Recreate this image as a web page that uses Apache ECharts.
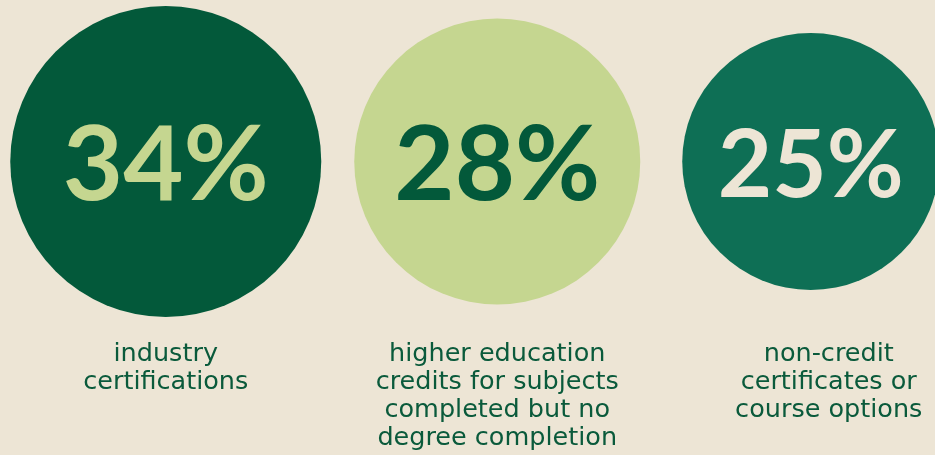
<!DOCTYPE html>
<html>
<head>
<meta charset="utf-8">
<script src="https://cdn.jsdelivr.net/npm/echarts@6/dist/echarts.min.js"></script>
<style>
html,body{margin:0;padding:0;background:#EDE5D5;}
#chart{width:935px;height:455px;}
</style>
</head>
<body>
<div id="chart"></div>
<script>
// ---- data ----
var categories = [
  "industry\ncertifications",
  "higher education\ncredits for subjects\ncompleted but no\ndegree completion",
  "non-credit\ncertificates or\ncourse options"
];
var percentValues = [34, 28, 25];

// ---- styles (not data) ----
var circleColors = ["#03593A", "#C5D690", "#0E6F55"];
var textColors = ["#C5D690", "#03593A", "#EDE5D5"];
var circleDiameters = [311, 286, 257];
var valueFontSizes = [104, 104, 94];
var circleShift = [[0, 0], [0, 0], [-18, 0]];

var seriesData = percentValues.map(function (v, i) {
  return {
    value: [i, 0, v],
    symbolSize: circleDiameters[i],
    symbolOffset: circleShift[i],
    itemStyle: { color: circleColors[i], opacity: 1 },
    label: {
      color: textColors[i],
      fontSize: valueFontSizes[i],
      offset: [0, 5]
    }
  };
});

var chart = echarts.init(document.getElementById('chart'), null, { renderer: 'canvas' });
chart.setOption({
  backgroundColor: '#EDE5D5',
  animation: false,
  grid: { left: 0, top: 0, width: 994.5, height: 323, containLabel: false, outerBoundsMode: 'none' },
  xAxis: {
    type: 'category',
    data: categories,
    boundaryGap: true,
    axisLine: { show: false },
    axisTick: { show: false },
    splitLine: { show: false },
    axisLabel: {
      interval: 0,
      margin: 17,
      color: '#0A5A3B',
      fontFamily: 'DejaVu Sans',
      fontSize: 25.5,
      lineHeight: 28,
      align: 'center'
    }
  },
  yAxis: {
    type: 'value',
    min: -1,
    max: 1,
    show: false
  },
  series: [{
    type: 'scatter',
    symbol: 'circle',
    data: seriesData,
    label: {
      show: true,
      position: 'inside',
      fontFamily: 'Lato',
      fontWeight: 'bold',
      formatter: function (p) { return p.value[2] + '%'; }
    },
    emphasis: { disabled: true }
  }]
});
</script>
</body>
</html>
